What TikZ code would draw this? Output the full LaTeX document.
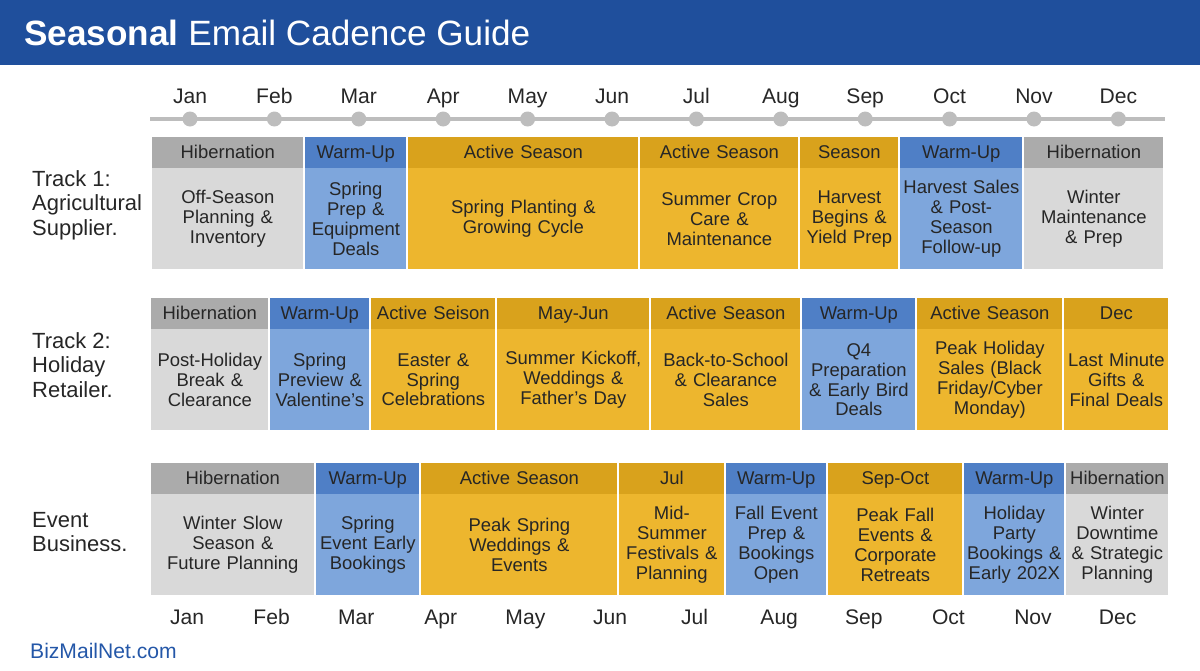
\documentclass[tikz,border=0pt]{standalone}
\usepackage{fontspec}
\setmainfont{Liberation Sans}
\usetikzlibrary{positioning}
\definecolor{titlebar}{HTML}{1F4F9C}
\definecolor{hibhead}{HTML}{ABABAB}
\definecolor{hibbody}{HTML}{D9D9D9}
\definecolor{warmhead}{HTML}{4F7FC6}
\definecolor{warmbody}{HTML}{7EA6DC}
\definecolor{acthead}{HTML}{D9A21C}
\definecolor{actbody}{HTML}{EDB62E}
\definecolor{axisgray}{HTML}{BDBDBD}
\definecolor{linkblue}{HTML}{2457A8}

\tikzset{
  head/.style={anchor=north west, inner sep=0pt, minimum height=0.62cm, text height=1.6ex, text depth=0.4ex, font=\fontsize{10.5}{12}\selectfont, text=black!85},
  body/.style={anchor=north west, inner sep=0pt, minimum height=2.02cm, font=\fontsize{10.5}{11.3}\selectfont, text=black!85, align=center},
  hib head/.style={head, fill=hibhead}, hib body/.style={body, fill=hibbody},
  warm head/.style={head, fill=warmhead}, warm body/.style={body, fill=warmbody},
  act head/.style={head, fill=acthead}, act body/.style={body, fill=actbody},
  month/.style={font=\fontsize{12}{14}\selectfont, text height=1.7ex, text depth=0.4ex, text=black!85},
  track/.style={anchor=west, align=left, font=\fontsize{12.5}{14}\selectfont, text=black!85},
  dot/.style={circle, fill=axisgray, inner sep=0pt, minimum size=0.3cm}
}

% segment: name, x1, x2, ytop, kind, header, body
\newcommand\seg[7]{%
  \node[#5 head, minimum width={(#3-#2)*0.02cm}, text width={(#3-#2)*0.02cm}, align=center] (#1h) at (#2,#4) {#6};
  \node[#5 body, minimum width={(#3-#2)*0.02cm}, text width={(#3-#2-2)*0.02cm}] (#1b) at (#2,#4+31) {#7};
}

\begin{document}
\begin{tikzpicture}[x=0.02cm, y=-0.02cm]
  \useasboundingbox (0,0) rectangle (1200,670);
  \fill[titlebar] (0,0) rectangle (1200,65);
  \node[anchor=west, text=white, font=\fontsize{20}{23}\selectfont, inner sep=0pt] (title) at (24,33)
    {\textbf{Seasonal} Email Cadence Guide};

  % month axis
  \draw[axisgray, line width=2pt] (150,119) -- (1165,119);
  \foreach \m [count=\i] in {Jan,Feb,Mar,Apr,May,Jun,Jul,Aug,Sep,Oct,Nov,Dec} {
    \node[dot] (d\i) at ({190+84.4*(\i-1)},119) {};
    \node[month] (t\i) at ({190+84.4*(\i-1)},97) {\m};
    \node[month] (b\i) at ({187+84.6*(\i-1)},618) {\m};
  }

  % track 1
  \node[track] (tr1) at (26,205) {Track 1:\\Agricultural\\Supplier.};
  \seg{a1}{152}{303}{137}{hib}{Hibernation}{Off-Season\\Planning \&\\Inventory}
  \seg{a2}{305}{406}{137}{warm}{Warm-Up}{Spring\\Prep \&\\Equipment\\Deals}
  \seg{a3}{408}{638}{137}{act}{Active Season}{Spring Planting \&\\Growing Cycle\\[1.6em]}
  \seg{a4}{640}{798}{137}{act}{Active Season}{Summer Crop\\Care \&\\Maintenance}
  \seg{a5}{800}{898}{137}{act}{Season}{Harvest\\Begins \&\\Yield Prep}
  \seg{a6}{900}{1022}{137}{warm}{Warm-Up}{Harvest Sales\\\& Post-\\Season\\Follow-up}
  \seg{a7}{1024}{1163}{137}{hib}{Hibernation}{Winter\\Maintenance\\\& Prep\\[1.2em]}

  % track 2
  \node[track] (tr2) at (26,365) {Track 2:\\Holiday\\Retailer.};
  \seg{r1}{151}{268}{298}{hib}{Hibernation}{Post-Holiday\\Break \&\\Clearance}
  \seg{r2}{270}{369}{298}{warm}{Warm-Up}{Spring\\Preview \&\\Valentine's}
  \seg{r3}{371}{495}{298}{act}{Active Seison}{Easter \&\\Spring\\Celebrations}
  \seg{r4}{497}{649}{298}{act}{May-Jun}{Summer Kickoff,\\Weddings \&\\Father's Day}
  \seg{r5}{651}{800}{298}{act}{Active Season}{Back-to-School\\\& Clearance\\Sales}
  \seg{r6}{802}{915}{298}{warm}{Warm-Up}{Q4\\Preparation\\\& Early Bird\\Deals}
  \seg{r7}{917}{1062}{298}{act}{Active Season}{Peak Holiday\\Sales (Black\\Friday/Cyber\\Monday)}
  \seg{r8}{1064}{1168}{298}{act}{Dec}{Last Minute\\Gifts \&\\Final Deals}

  % track 3
  \node[track] (tr3) at (26,532) {Event\\Business.};
  \seg{e1}{151}{314}{463}{hib}{Hibernation}{Winter Slow\\Season \&\\Future Planning}
  \seg{e2}{316}{419}{463}{warm}{Warm-Up}{Spring\\Event Early\\Bookings}
  \seg{e3}{421}{617}{463}{act}{Active Season}{Peak Spring\\Weddings \&\\Events}
  \seg{e4}{619}{724}{463}{act}{Jul}{Mid-\\Summer\\Festivals \&\\Planning}
  \seg{e5}{726}{826}{463}{warm}{Warm-Up}{Fall Event\\Prep \&\\Bookings\\Open}
  \seg{e6}{828}{962}{463}{act}{Sep-Oct}{Peak Fall\\Events \&\\Corporate\\Retreats}
  \seg{e7}{964}{1064}{463}{warm}{Warm-Up}{Holiday\\Party\\Bookings \&\\Early 202X}
  \seg{e8}{1066}{1168}{463}{hib}{Hibernation}{Winter\\Downtime\\\& Strategic\\Planning}

  \node[anchor=west, text=linkblue, font=\fontsize{12}{14}\selectfont] (site) at (24,651) {BizMailNet.com};
\end{tikzpicture}
\end{document}
